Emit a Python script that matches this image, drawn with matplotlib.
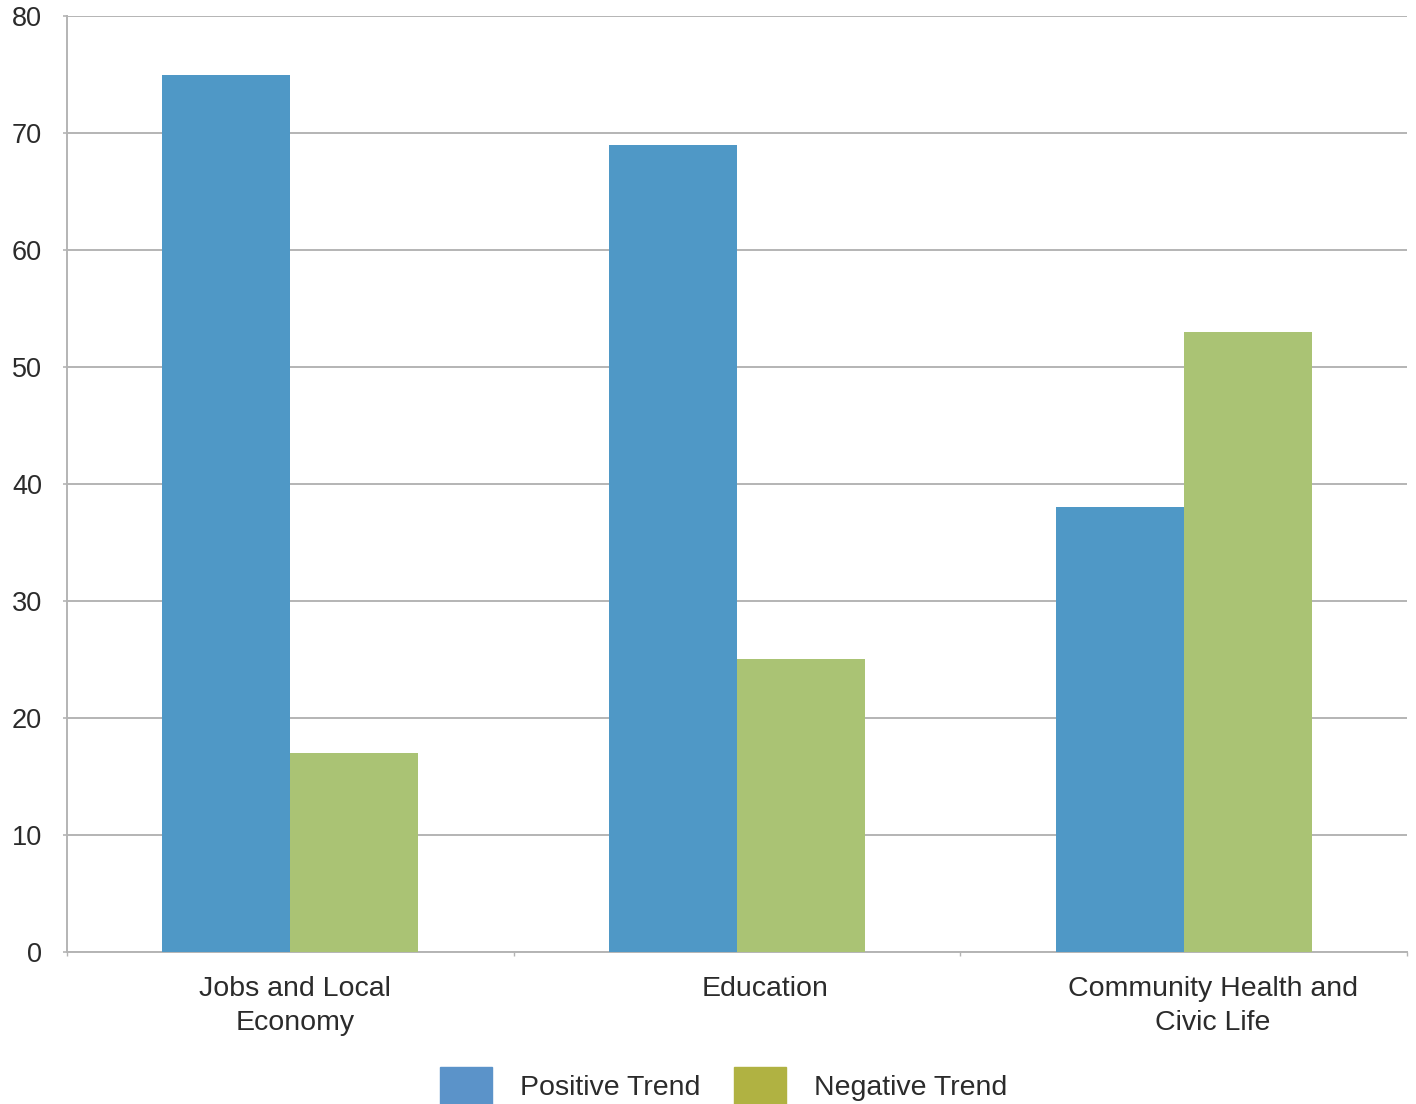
import matplotlib.pyplot as plt
import matplotlib.transforms as mtransforms
import numpy as np

categories = ['Jobs and Local\nEconomy', 'Education', 'Community Health and\nCivic Life']
positive = [75, 69, 38]
negative = [17, 25, 53]
series_names = ['Positive Trend', 'Negative Trend']

bar_blue = '#4f98c6'
bar_green = '#aac374'
legend_blue = '#5b93c9'
legend_green = '#b0b242'
grid_gray = '#b4b4b4'
text_color = '#2b2b2b'

plt.rcParams['font.family'] = ['Liberation Sans', 'DejaVu Sans']

fig = plt.figure(figsize=(14.16, 11.04), dpi=100)
ax = fig.add_axes([0.0473, 0.1377, 0.9463, 0.8478])

x = np.arange(len(categories))
width = 0.2866
ax.bar(x - width / 2, positive, width, color=bar_blue, zorder=3)
ax.bar(x + width / 2, negative, width, color=bar_green, zorder=3)

ax.set_xlim(-0.5, len(categories) - 0.5)
ax.set_ylim(0, 80)
ax.set_yticks(range(0, 81, 10))
ax.yaxis.grid(True, color=grid_gray, linewidth=1.4, zorder=0)
ax.set_axisbelow(True)

for side in ['top', 'right']:
    ax.spines[side].set_visible(False)
for side in ['left', 'bottom']:
    ax.spines[side].set_color(grid_gray)
    ax.spines[side].set_linewidth(1.4)

ax.tick_params(axis='y', length=3, width=1.2, color=grid_gray, pad=15,
               labelsize=19.5, labelcolor=text_color)
ax.set_yticklabels([str(v) for v in range(0, 81, 10)])

# small ticks between categories on the x axis
ax.set_xticks(np.arange(-0.5, len(categories), 1.0))
ax.set_xticklabels([])
ax.tick_params(axis='x', length=3, width=1.0, color=grid_gray)

# category labels, nudged a little right
nudges = [5, 28, 29]
for xi, label, dx in zip(x, categories, nudges):
    offset = mtransforms.ScaledTranslation(dx / 100, -24 / 100, fig.dpi_scale_trans)
    ax.text(xi, 0, label, ha='center', va='top', fontsize=20.5, color=text_color,
            linespacing=1.42,
            transform=ax.get_xaxis_transform() + offset)

handles = [plt.Rectangle((0, 0), 1, 1, color=legend_blue),
           plt.Rectangle((0, 0), 1, 1, color=legend_green)]
fig.legend(handles, series_names, loc='center', bbox_to_anchor=(0.511, 0.0165),
           ncol=2, frameon=False, fontsize=20.5, handlelength=1.83, handleheight=1.6,
           handletextpad=0.98, columnspacing=1.16, labelcolor=text_color)

fig.savefig('out.png', dpi=100)
